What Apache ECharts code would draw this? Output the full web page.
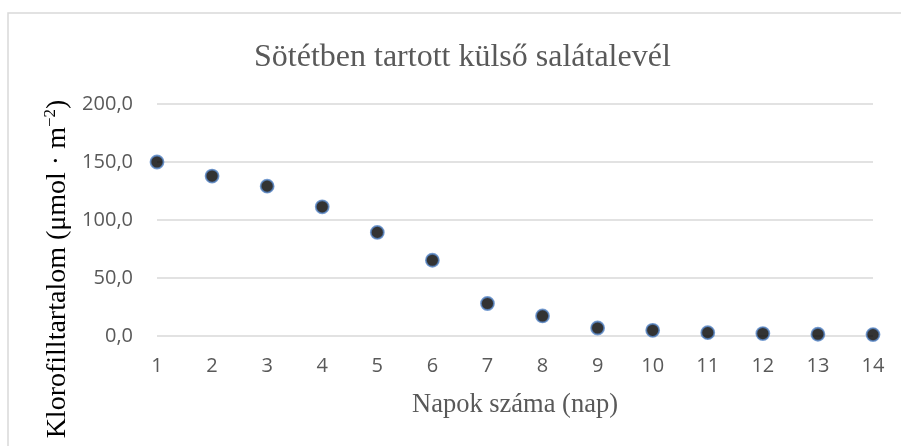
<!DOCTYPE html>
<html>
<head>
<meta charset="utf-8">
<script src="https://cdn.jsdelivr.net/npm/echarts@6/dist/echarts.min.js"></script>
<style>
    html, body { margin: 0; padding: 0; background: #fff; }
    #chart { width: 901px; height: 446px; }
</style>
</head>
<body>
<div id="chart"></div>
<script>
const days = [1, 2, 3, 4, 5, 6, 7, 8, 9, 10, 11, 12, 13, 14]
const chlorophyll = [150.0, 137.9, 129.2, 111.4, 89.3, 65.3, 28.0, 17.3, 6.9, 4.9, 2.9, 2.1, 1.5, 1.2]
const yTicks = [0, 50, 100, 150, 200]

const chart = echarts.init(document.getElementById('chart'))

const points = []
for (let i = 0, len = days.length; i < len; i++) {
    points.push([days[i], chlorophyll[i]])
}

const option = {
    animation: false,
    graphic: [
        {
            type: 'rect',
            shape: { x: 8, y: 13, width: 1000, height: 1000 },
            style: { fill: 'none', stroke: '#d9d9d9', lineWidth: 1.5 }
        }
    ],
    title: {
        text: 'Sötétben tartott külső salátalevél',
        left: 249,
        top: 37,
        textStyle: {
            fontFamily: 'Liberation Serif',
            fontWeight: 'normal',
            fontSize: 32,
            color: '#595959'
        }
    },
    grid: {
        left: 157,
        right: 28,
        top: 104,
        bottom: 110
    },
    xAxis: {
        type: 'value',
        min: 1,
        max: 14,
        interval: 1,
        name: 'Napok száma (nap)',
        nameLocation: 'middle',
        nameGap: 56,
        nameTextStyle: {
            fontFamily: 'Liberation Serif',
            fontSize: 26.5,
            color: '#595959'
        },
        axisLine: { show: false },
        axisTick: { show: false },
        splitLine: { show: false },
        axisLabel: {
            margin: 20,
            fontFamily: 'Open Sans',
            fontSize: 20,
            color: '#595959'
        }
    },
    yAxis: {
        type: 'value',
        min: yTicks[0],
        max: yTicks[yTicks.length - 1],
        interval: 50,
        name: '{a|Klorofilltartalom (μmol · m}{s|−2}{a|)}',
        nameLocation: 'middle',
        nameGap: 80,
        nameTextStyle: {
            padding: [0, 98, 0, 0],
            rich: {
                a: { fontFamily: 'Liberation Serif', fontSize: 28, color: '#000' },
                s: { fontFamily: 'Liberation Serif', fontSize: 17, color: '#000', padding: [0, 0, 13, 0] }
            }
        },
        axisLine: { show: false },
        axisTick: { show: false },
        splitLine: {
            show: true,
            lineStyle: { color: '#d9d9d9', width: 1.5 }
        },
        axisLabel: {
            margin: 24,
            fontFamily: 'Open Sans',
            fontSize: 20,
            color: '#595959',
            formatter: v => v.toFixed(1).replace('.', ',')
        }
    },
    series: [
        {
            type: 'scatter',
            data: points,
            symbol: 'circle',
            symbolSize: 13,
            itemStyle: {
                color: '#000',
                borderColor: '#5585c5',
                borderWidth: 1.8
            }
        }
    ]
}
chart.setOption(option)
</script>
</body>
</html>
